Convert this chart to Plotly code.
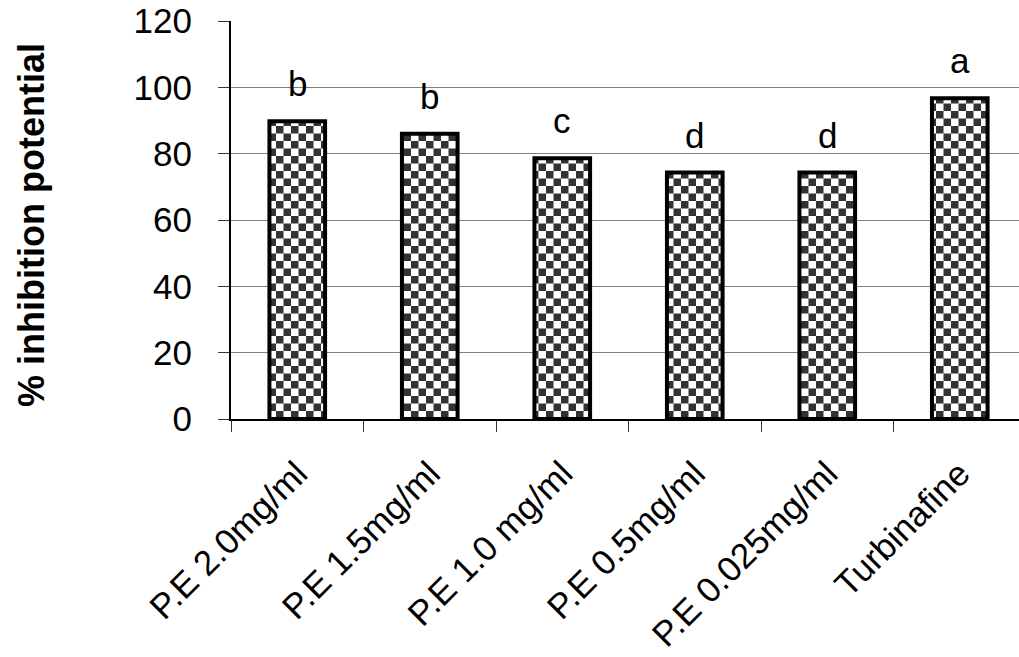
import plotly.graph_objects as go

# Treatments and their mean % inhibition, with significance groups
treatments = ["P.E 2.0mg/ml", "P.E 1.5mg/ml", "P.E 1.0 mg/ml", "P.E 0.5mg/ml",
              "P.E 0.025mg/ml", "Turbinafine"]
inhibition = [89.8, 86.0, 78.6, 74.3, 74.3, 96.7]
groups = ["b", "b", "c", "d", "d", "a"]
y_ticks = [0, 20, 40, 60, 80, 100, 120]

FONT = "Liberation Sans, Arial, sans-serif"

fig = go.Figure()
fig.add_trace(go.Bar(
    x=treatments,
    y=inhibition,
    width=0.42,
    marker=dict(
        color="white",
        line=dict(color="black", width=4),
        pattern=dict(shape="+", fgcolor="#333333", bgcolor="white", size=15, solidity=0.5),
    ),
    showlegend=False,
    hoverinfo="skip",
))

# Significance letters above each bar
for cat, val, g in zip(treatments, inhibition, groups):
    fig.add_annotation(x=cat, y=val, text=g, showarrow=False, xanchor="center",
                       yanchor="bottom", yshift=16,
                       font=dict(family=FONT, size=35, color="black"))

# Vertical axis title
fig.add_annotation(text="<b>% inhibition potential</b>", xref="paper", yref="paper",
                   x=0, y=0.5, xanchor="center", yanchor="middle", xshift=-200, yshift=-5,
                   textangle=-90, showarrow=False,
                   font=dict(family=FONT, size=36, color="black"))

fig.update_layout(
    width=1019, height=657,
    margin=dict(l=231, r=0, t=21, b=238, autoexpand=False),
    paper_bgcolor="white", plot_bgcolor="white",
    font=dict(family=FONT, size=34, color="black"),
    bargap=0.58,
)
fig.update_xaxes(
    range=[-0.5, 5.447], automargin=False,
    showline=True, linecolor="black", linewidth=2,
    ticks="outside", tickson="boundaries", ticklen=11, tickcolor="#333333", tickwidth=1,
    tickangle=-45, ticklabelstandoff=18,
    tickfont=dict(family=FONT, size=35, color="black"),
    showgrid=False,
)
fig.update_yaxes(
    range=[0, 120], tickvals=y_ticks, ticktext=[str(v) for v in y_ticks],
    automargin=False,
    showline=True, linecolor="black", linewidth=2,
    ticks="outside", ticklen=11, tickcolor="#333333", tickwidth=1,
    ticklabelstandoff=19,
    tickfont=dict(family=FONT, size=35, color="black"),
    showgrid=True, gridcolor="#808080", gridwidth=1,
    zeroline=False,
)

# Checkerboard fill for the bars
checker_js = """
(function(){
  var gd = document.querySelector('.plotly-graph-div');
  var svg = gd.querySelector('svg.main-svg');
  var ns = 'http://www.w3.org/2000/svg';
  var defs = svg.querySelector('defs');
  if (!defs) { defs = document.createElementNS(ns, 'defs'); svg.insertBefore(defs, svg.firstChild); }
  var pat = document.createElementNS(ns, 'pattern');
  pat.setAttribute('id', 'chk');
  pat.setAttribute('patternUnits', 'userSpaceOnUse');
  pat.setAttribute('width', '15'); pat.setAttribute('height', '15');
  var parts = [[0,0,15,15,'#ffffff'],[0,0,7.5,7.5,'#333333'],[7.5,7.5,7.5,7.5,'#333333']];
  parts.forEach(function(p){
    var r = document.createElementNS(ns, 'rect');
    r.setAttribute('x', p[0]); r.setAttribute('y', p[1]);
    r.setAttribute('width', p[2]); r.setAttribute('height', p[3]);
    r.setAttribute('fill', p[4]);
    pat.appendChild(r);
  });
  defs.appendChild(pat);
  gd.querySelectorAll('.trace.bars .point path').forEach(function(el){
    el.style.fill = 'url(#chk)';
  });
})();
"""

fig.write_html("out.html", post_script=checker_js)
